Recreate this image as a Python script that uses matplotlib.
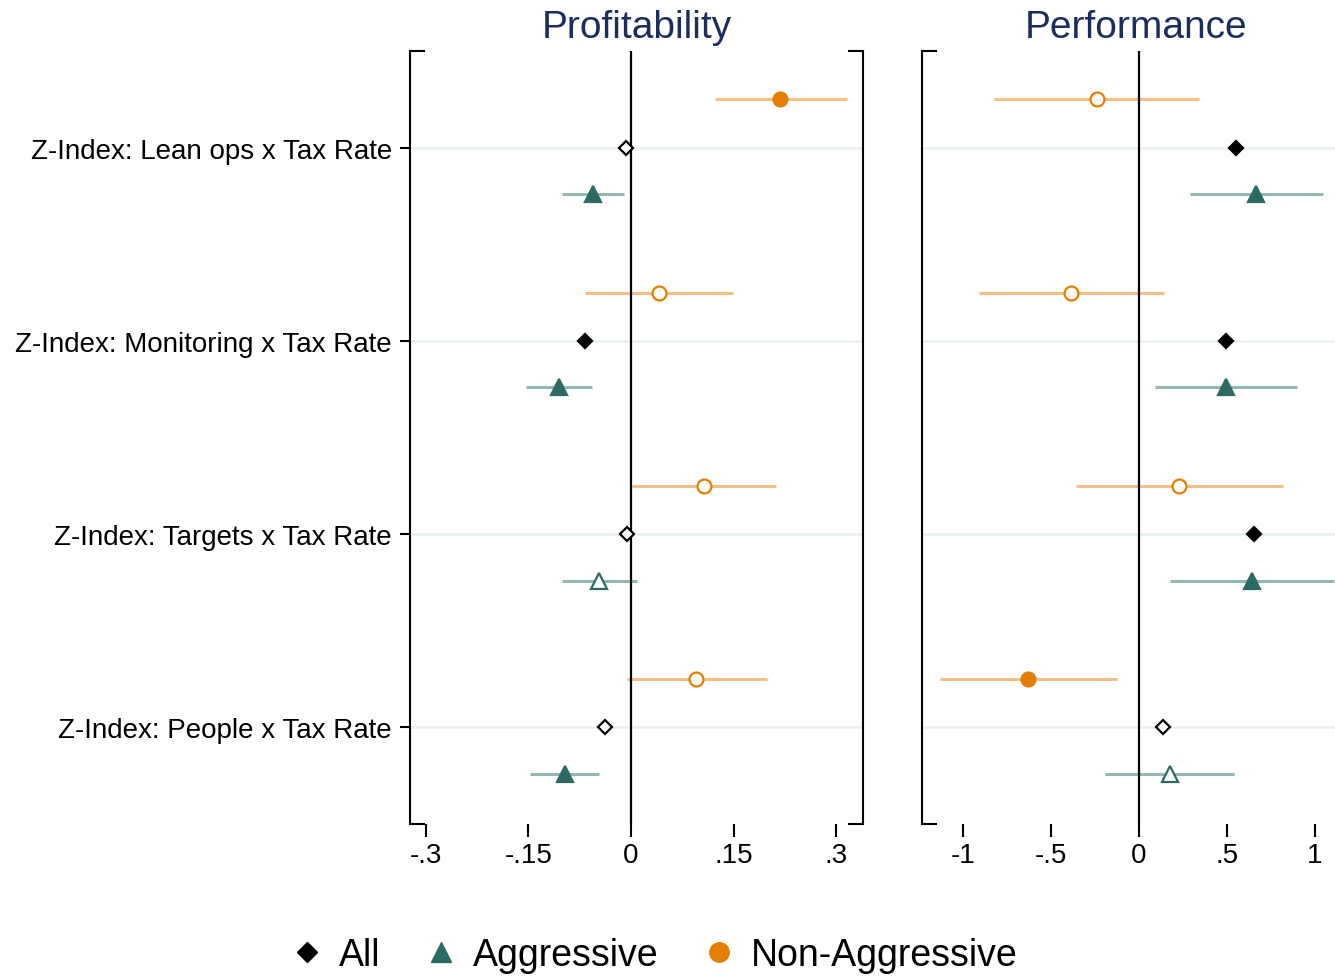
import matplotlib
matplotlib.use('Agg')
import matplotlib.pyplot as plt
from matplotlib.lines import Line2D
import numpy as np

plt.rcParams['font.family'] = ['Liberation Sans', 'DejaVu Sans']

# rows, top to bottom
rows = ['Z-Index: Lean ops x Tax Rate', 'Z-Index: Monitoring x Tax Rate',
        'Z-Index: Targets x Tax Rate', 'Z-Index: People x Tax Rate']

# Profitability panel
prof_all = [-0.007, -0.067, -0.006, -0.038]
prof_all_sig = [False, True, False, False]
prof_agg = [-0.056, -0.105, -0.047, -0.097]
prof_agg_lo = [-0.101, -0.154, -0.101, -0.148]
prof_agg_hi = [-0.010, -0.057, 0.009, -0.047]
prof_agg_sig = [True, True, False, True]
prof_non = [0.218, 0.041, 0.107, 0.095]
prof_non_lo = [0.123, -0.067, 0.002, -0.006]
prof_non_hi = [0.316, 0.149, 0.212, 0.199]
prof_non_sig = [True, False, False, False]

# Performance panel
perf_all = [0.550, 0.497, 0.655, 0.135]
perf_all_sig = [True, True, True, False]
perf_agg = [0.667, 0.496, 0.642, 0.175]
perf_agg_lo = [0.289, 0.093, 0.178, -0.195]
perf_agg_hi = [1.047, 0.900, 1.110, 0.539]
perf_agg_sig = [True, True, True, False]
perf_non = [-0.241, -0.386, 0.230, -0.633]
perf_non_lo = [-0.824, -0.912, -0.359, -1.136]
perf_non_hi = [0.344, 0.141, 0.819, -0.123]
perf_non_sig = [False, False, False, True]

prof_ticks = [-0.3, -0.15, 0, 0.15, 0.3]
prof_ticklabels = ['-.3', '-.15', '0', '.15', '.3']
perf_ticks = [-1, -0.5, 0, 0.5, 1]
perf_ticklabels = ['-1', '-.5', '0', '.5', '1']

black = 'black'
teal = '#2c6b63'
teal_ci = '#93b8b2'
orange = '#e47e00'
orange_ci = '#f4c088'
navy = '#1c2d5a'
gridc = '#e9f1f2'

W, H = 1335, 979
fig = plt.figure(figsize=(W / 100, H / 100), dpi=100)

ax1 = fig.add_axes([410 / W, 1 - 825 / H, 453 / W, 773 / H])
ax2 = fig.add_axes([922 / W, 1 - 825 / H, 428 / W, 773 / H])

ypos = np.arange(1, len(rows) + 1)
off_non = -0.25
off_agg = 0.24


def draw_panel(ax, all_v, all_s, agg, agg_lo, agg_hi, agg_s, non, non_lo, non_hi, non_s):
    for y in ypos:
        ax.axhline(y, color=gridc, lw=1.8, zorder=1)
    ax.hlines(ypos + off_agg, agg_lo, agg_hi, color=teal_ci, lw=2.2, zorder=2)
    ax.hlines(ypos + off_non, non_lo, non_hi, color=orange_ci, lw=2.2, zorder=2)
    ax.axvline(0, color=black, lw=1.6, zorder=3)
    for i, y in enumerate(ypos):
        ax.plot(all_v[i], y, marker='D', ms=7.5, mew=1.6, mec=black,
                mfc=black if all_s[i] else 'white', zorder=4)
        ax.plot(agg[i], y + off_agg, marker='^', ms=12, mew=1.6, mec=teal,
                mfc=teal if agg_s[i] else 'white', zorder=4)
        ax.plot(non[i], y + off_non, marker='o', ms=10, mew=1.6, mec=orange,
                mfc=orange if non_s[i] else 'white', zorder=4)
    ax.set_ylim(len(rows) + 0.5, 0.5)
    ax.spines['top'].set_visible(False)
    ax.spines['bottom'].set_visible(False)
    for s in ['left', 'right']:
        ax.spines[s].set_linewidth(1.5)
    ax.tick_params(axis='x', length=9, width=1.5, pad=4, labelsize=20)


draw_panel(ax1, prof_all, prof_all_sig, prof_agg, prof_agg_lo, prof_agg_hi, prof_agg_sig,
           prof_non, prof_non_lo, prof_non_hi, prof_non_sig)
draw_panel(ax2, perf_all, perf_all_sig, perf_agg, perf_agg_lo, perf_agg_hi, perf_agg_sig,
           perf_non, perf_non_lo, perf_non_hi, perf_non_sig)

ax1.set_xlim(-0.3234, 0.3395)
ax1.set_xticks(prof_ticks)
ax1.set_xticklabels(prof_ticklabels)
ax1.set_yticks(ypos)
ax1.set_yticklabels(rows, fontsize=20)
ax1.tick_params(axis='y', length=7, width=1.5, pad=6)

ax2.set_xlim(-1.236, 1.202)
ax2.set_xticks(perf_ticks)
ax2.set_xticklabels(perf_ticklabels)
ax2.set_yticks([])

# corner stubs (bracket-style frame)
for ax, sides in [(ax1, [0, 1]), (ax2, [0])]:
    stub = 15 / (ax.get_position().width * W)
    for side in sides:
        x0 = 0 if side == 0 else 1 - stub
        for yy in [0, 1]:
            ax.plot([x0, x0 + stub], [yy, yy], color=black, lw=1.5,
                    transform=ax.transAxes, clip_on=False, solid_capstyle='butt')

ax1.set_title('Profitability', fontsize=28, color=navy, pad=10)
ax2.set_title('Performance', fontsize=28, color=navy, pad=10)

handles = [
    Line2D([], [], ls='none', marker='D', ms=10, color=black),
    Line2D([], [], ls='none', marker='^', ms=15, color=teal),
    Line2D([], [], ls='none', marker='o', ms=14, color=orange),
]
fig.legend(handles, ['All', 'Aggressive', 'Non-Aggressive'], loc='center',
           bbox_to_anchor=(0.489, 1 - 956 / H), ncol=3, frameon=False, fontsize=27,
           handlelength=1.0, handletextpad=0.35, columnspacing=1.12)

fig.savefig('out.png', dpi=100)
